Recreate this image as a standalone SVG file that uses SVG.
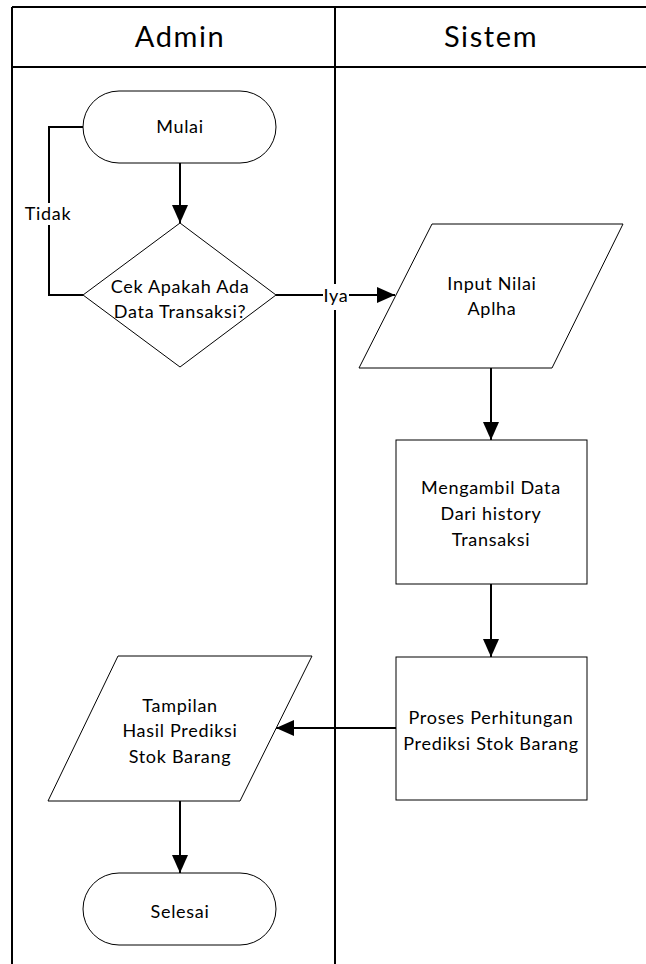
<svg xmlns="http://www.w3.org/2000/svg" width="646" height="964" viewBox="0 0 646 964">
  <style>
    .lane { fill: none; stroke: #000; stroke-width: 2; }
    .shape { fill: #fff; stroke: #000; stroke-width: 1; }
    .conn { fill: none; stroke: #000; stroke-width: 2; }
    .head { font-family: Lato, "Open Sans", sans-serif; font-size: 29px; fill: #000; text-anchor: middle; letter-spacing: 1.6px; }
    .txt { font-family: Lato, "Open Sans", sans-serif; font-size: 18px; fill: #000; text-anchor: middle; letter-spacing: 0.7px; }
  </style>
  <defs>
    <marker id="arrow" markerUnits="userSpaceOnUse" markerWidth="18" markerHeight="16" refX="18" refY="8" orient="auto">
      <path d="M0,0 L18,8 L0,16 z" fill="#000"/>
    </marker>
  </defs>

  <rect width="646" height="964" fill="#fff"/>

  <!-- swimlanes -->
  <g id="lanes">
    <path class="lane" d="M12,7 H646 M12,67 H646 M12,7 V964 M335,7 V964"/>
    <text class="head" x="180" y="47">Admin</text>
    <text class="head" x="491" y="47">Sistem</text>
  </g>

  <!-- connectors -->
  <g id="connectors">
    <path class="conn" d="M180,163 V223" marker-end="url(#arrow)"/>
    <path class="conn" d="M83,295 H49 V127 H83"/>
    <path class="conn" d="M276,295 H395" marker-end="url(#arrow)"/>
    <path class="conn" d="M491,368 V440" marker-end="url(#arrow)"/>
    <path class="conn" d="M491,584 V657" marker-end="url(#arrow)"/>
    <path class="conn" d="M396,728 H276" marker-end="url(#arrow)"/>
    <path class="conn" d="M180,801 V873" marker-end="url(#arrow)"/>
    <rect x="24" y="203" width="48" height="22" fill="#fff"/>
    <text class="txt" x="48" y="220">Tidak</text>
    <rect x="323" y="284" width="26" height="26" fill="#fff"/>
    <text class="txt" x="336" y="302">Iya</text>
  </g>

  <g id="mulai">
    <rect class="shape" x="83" y="91" width="193" height="72" rx="36" ry="36"/>
    <text class="txt" x="180" y="133">Mulai</text>
  </g>

  <g id="cek-data">
    <polygon class="shape" points="180,223 276,295 180,367 83,295"/>
    <text class="txt" x="180" y="293">Cek Apakah Ada</text>
    <text class="txt" x="180" y="318">Data Transaksi?</text>
  </g>

  <g id="input-alpha">
    <polygon class="shape" points="432,224 623,224 552,368 359,368"/>
    <text class="txt" x="492" y="290">Input Nilai</text>
    <text class="txt" x="492" y="315">Aplha</text>
  </g>

  <g id="ambil-data">
    <rect class="shape" x="396" y="440" width="191" height="144"/>
    <text class="txt" x="491" y="494">Mengambil Data</text>
    <text class="txt" x="491" y="520">Dari history</text>
    <text class="txt" x="491" y="546">Transaksi</text>
  </g>

  <g id="proses-prediksi">
    <rect class="shape" x="396" y="657" width="191" height="143"/>
    <text class="txt" x="491" y="724">Proses Perhitungan</text>
    <text class="txt" x="491" y="750">Prediksi Stok Barang</text>
  </g>

  <g id="tampilan-hasil">
    <polygon class="shape" points="118,656 312,656 240,801 48,801"/>
    <text class="txt" x="180" y="712">Tampilan</text>
    <text class="txt" x="180" y="737">Hasil Prediksi</text>
    <text class="txt" x="180" y="763">Stok Barang</text>
  </g>

  <g id="selesai">
    <rect class="shape" x="83" y="873" width="193" height="72" rx="36" ry="36"/>
    <text class="txt" x="180" y="918">Selesai</text>
  </g>
</svg>
